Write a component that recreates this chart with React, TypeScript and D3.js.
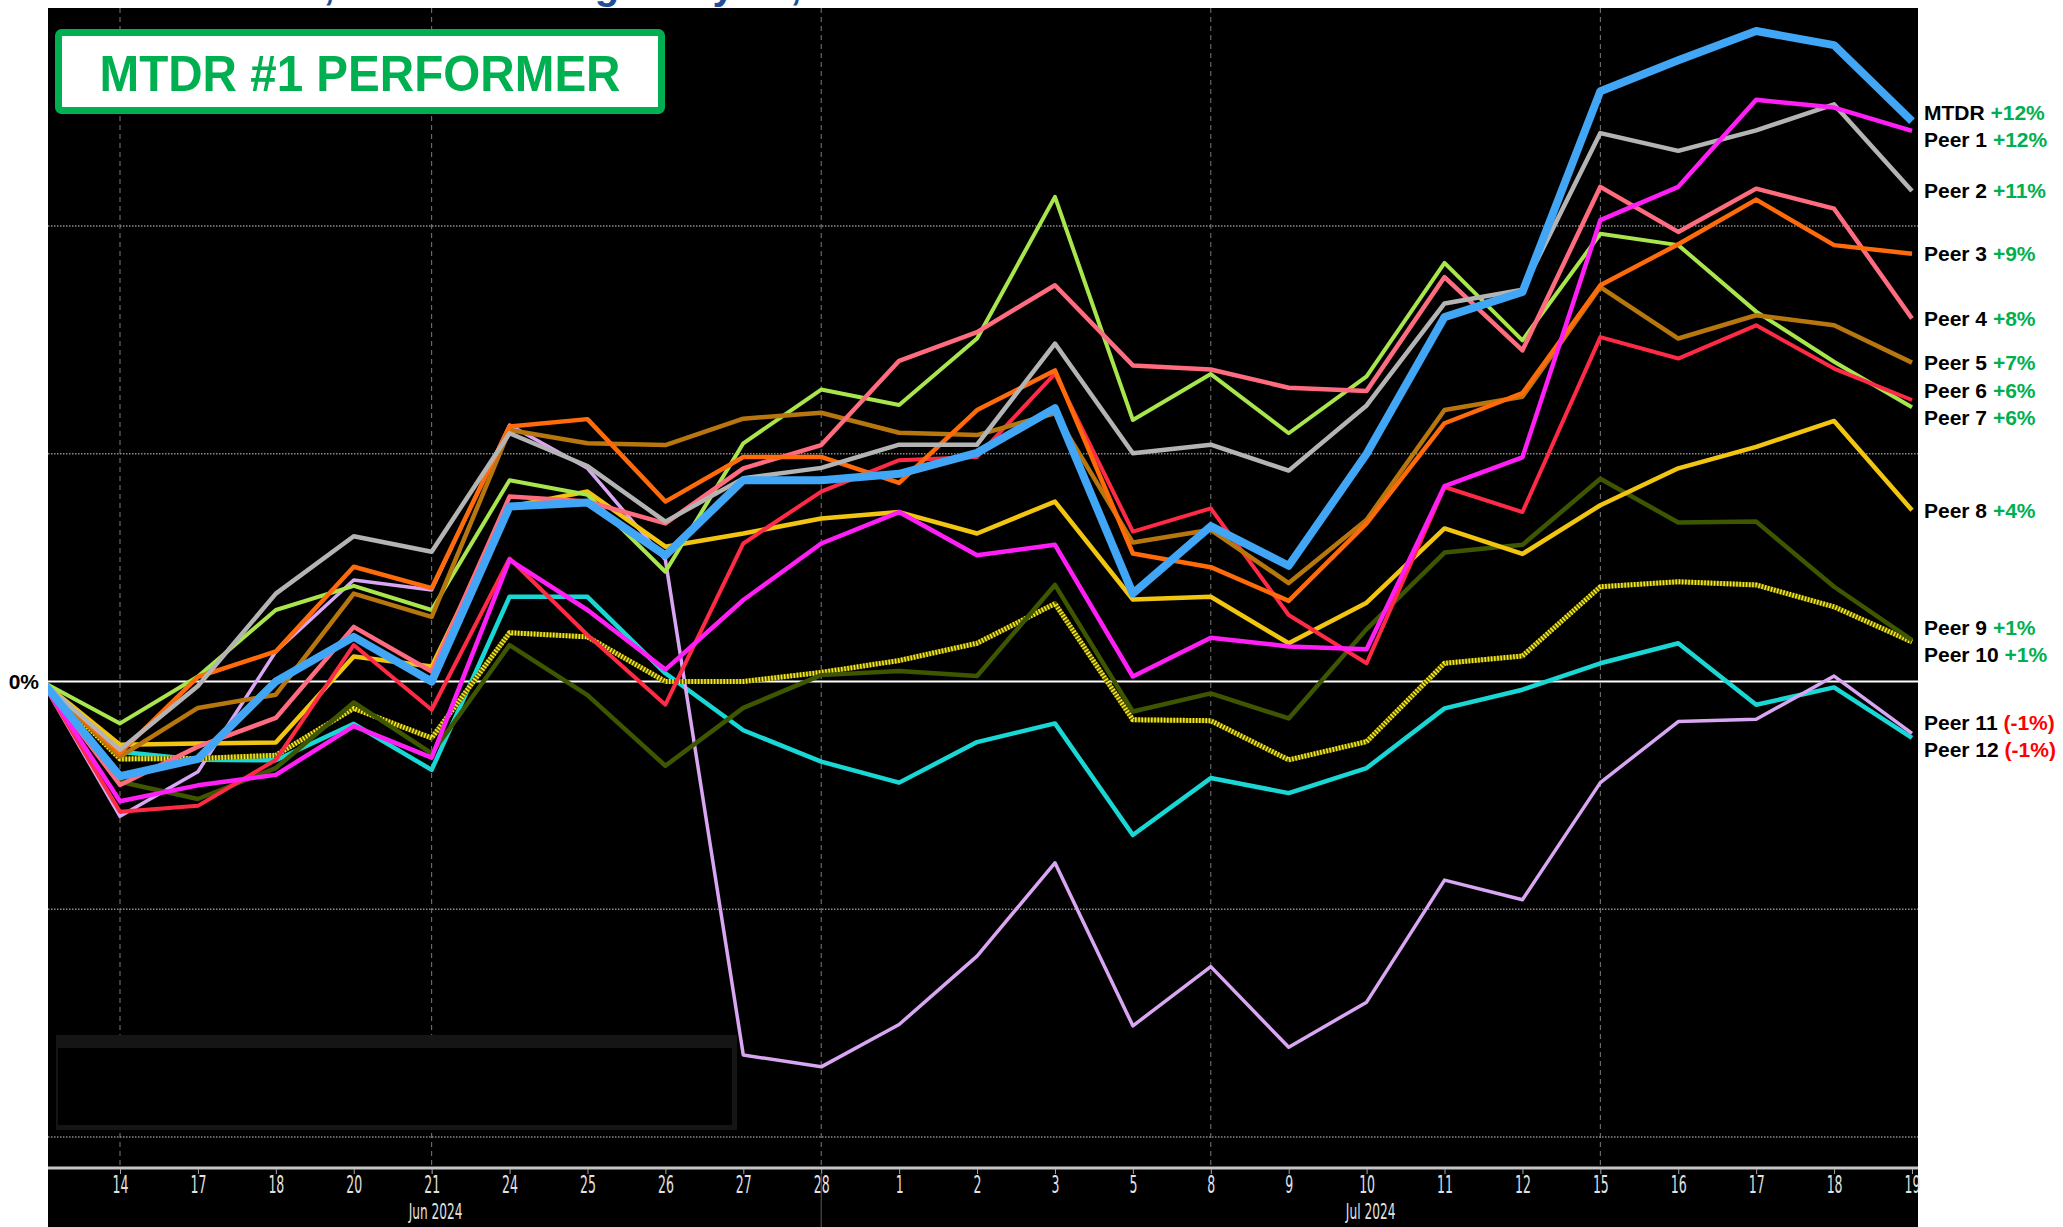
import { useEffect, useRef } from "react";
import * as d3 from "d3";

// index 0 is the Jun 13 base day (no tick label); the rest follow the axis
const dateTicks = ["14", "17", "18", "20", "21", "24", "25", "26", "27", "28", "1", "2", "3", "5", "8", "9", "10", "11", "12", "15", "16", "17", "18", "19"];
const monthLabels = ["Jun 2024", "Jul 2024"];
const monthAt = [5, 17];
const weekGrid = [1, 5, 10, 15, 20];
const pctGrid = [-10, -5, 5, 10];

const seriesNames = ["MTDR", "Peer 1", "Peer 2", "Peer 3", "Peer 4", "Peer 5", "Peer 6", "Peer 7", "Peer 8", "Peer 9", "Peer 10", "Peer 11", "Peer 12"];
const changeLabels = ["+12%", "+12%", "+11%", "+9%", "+8%", "+7%", "+6%", "+6%", "+4%", "+1%", "+1%", "(-1%)", "(-1%)"];

// % change since Jun 13
const mtdr = [0, -2.08, -1.7, 0, 0.98, 0, 3.84, 3.93, 2.77, 4.42, 4.42, 4.56, 5.02, 6.0, 1.93, 3.41, 2.54, 5.0, 8.0, 8.55, 12.96, 13.64, 14.28, 13.97, 12.3];
const peer1 = [0, -2.63, -2.28, -2.05, -0.98, -1.67, 2.67, 1.57, 0.26, 1.79, 3.03, 3.72, 2.77, 3.0, 0.11, 0.96, 0.77, 0.71, 4.29, 4.92, 10.13, 10.86, 12.77, 12.6, 12.09];
const peer2 = [0, -1.5, -0.1, 1.93, 3.19, 2.85, 5.45, 4.73, 3.51, 4.46, 4.69, 5.2, 5.2, 7.42, 5.01, 5.2, 4.63, 6.06, 8.3, 8.6, 12.04, 11.65, 12.1, 12.67, 10.77];
const peer3 = [0, -1.57, 0.1, 0.66, 2.52, 2.05, 5.6, 5.76, 3.95, 4.93, 4.93, 4.36, 5.96, 6.83, 2.81, 2.51, 1.77, 3.47, 5.67, 6.33, 8.7, 9.6, 10.58, 9.58, 9.39];
const peer4 = [0, -2.27, -1.43, -0.8, 1.2, 0.22, 4.06, 3.95, 3.47, 4.68, 5.19, 7.04, 7.67, 8.7, 6.94, 6.85, 6.45, 6.38, 8.88, 7.27, 10.86, 9.87, 10.82, 10.38, 7.97];
const peer5 = [0, -1.65, -0.58, -0.29, 1.93, 1.42, 5.52, 5.23, 5.19, 5.77, 5.9, 5.46, 5.41, 5.89, 3.05, 3.33, 2.16, 3.55, 5.96, 6.25, 8.66, 7.53, 8.04, 7.82, 7.0];
const peer6 = [0, -2.86, -2.73, -1.72, 0.8, -0.62, 2.7, 1.02, -0.51, 3.03, 4.17, 4.86, 4.93, 6.76, 3.29, 3.8, 1.46, 0.4, 4.27, 3.72, 7.56, 7.09, 7.82, 6.87, 6.18];
const peer7 = [0, -0.92, 0.11, 1.57, 2.1, 1.57, 4.42, 4.1, 2.41, 5.23, 6.41, 6.07, 7.53, 10.64, 5.74, 6.75, 5.45, 6.7, 9.19, 7.49, 9.83, 9.58, 8.12, 7.02, 6.02];
const peer8 = [0, -1.39, -1.36, -1.34, 0.55, 0.33, 3.84, 4.17, 2.96, 3.25, 3.58, 3.72, 3.25, 3.95, 1.8, 1.86, 0.84, 1.73, 3.36, 2.8, 3.87, 4.68, 5.15, 5.72, 3.76];
const peer9 = [0, -2.2, -2.58, -1.9, -0.46, -1.58, 0.8, -0.3, -1.85, -0.58, 0.14, 0.23, 0.12, 2.12, -0.66, -0.26, -0.81, 1.15, 2.83, 3.0, 4.45, 3.49, 3.51, 2.08, 0.91];
const peer10 = [0, -1.7, -1.69, -1.62, -0.59, -1.24, 1.07, 0.98, 0, 0, 0.2, 0.46, 0.84, 1.71, -0.84, -0.86, -1.72, -1.32, 0.4, 0.56, 2.08, 2.19, 2.12, 1.64, 0.87];
const peer11 = [0, -2.96, -1.98, 0.66, 2.23, 2.01, 5.63, 4.68, 2.67, -8.2, -8.46, -7.53, -6.03, -3.98, -7.56, -6.26, -8.03, -7.04, -4.36, -4.79, -2.22, -0.88, -0.83, 0.12, -1.14];
const peer12 = [0, -1.54, -1.72, -1.73, -0.93, -1.94, 1.86, 1.86, 0.18, -1.07, -1.76, -2.22, -1.33, -0.92, -3.37, -2.12, -2.45, -1.9, -0.59, -0.18, 0.4, 0.84, -0.51, -0.13, -1.24];

const allValues = [mtdr, peer1, peer2, peer3, peer4, peer5, peer6, peer7, peer8, peer9, peer10, peer11, peer12];

const lineStyles = [
  { color: "#41a6f6", width: 8 },
  { color: "#ff1ef5", width: 4.5 },
  { color: "#b4b4b4", width: 4.5 },
  { color: "#ff6a0a", width: 4.5 },
  { color: "#ff6b7f", width: 4.5 },
  { color: "#b8760e", width: 4.5 },
  { color: "#ff2a45", width: 4 },
  { color: "#a9e54c", width: 4 },
  { color: "#f2c511", width: 4.5 },
  { color: "#3e5600", width: 4.5 },
  { color: "#f4ea1a", width: 5, dash: "1.6,1.6" },
  { color: "#d8a6f2", width: 3.5 },
  { color: "#19d7d4", width: 4.5 },
];

export default function App() {
  const svgRef = useRef<SVGSVGElement | null>(null);

  useEffect(() => {
    const el = svgRef.current;
    if (!el) return;
    el.innerHTML = "";
    const width = 2063;
    const height = 1227;
    const plot = { left: 48, right: 1918, top: 8, bottom: 1167 };

    const svg = d3.select(el).attr("width", width).attr("height", height);
    svg.append("rect").attr("width", width).attr("height", height).attr("fill", "#fff");

    // report title, cut off by the top of the page as in the source slide
    svg
      .append("text")
      .attr("x", 79)
      .attr("y", -1)
      .attr("font-family", "Liberation Sans, Arial, sans-serif")
      .attr("font-weight", "bold")
      .attr("font-size", 40)
      .attr("fill", "#1f4e9a")
      .text("Performance, Period Through July 19, 2024");

    svg
      .append("rect")
      .attr("x", plot.left)
      .attr("y", plot.top)
      .attr("width", plot.right - plot.left)
      .attr("height", height - plot.top)
      .attr("fill", "#000");

    const x = d3.scaleLinear().domain([1, 24]).range([120, 1912]);
    const y = d3.scaleLinear().domain([-10, 10]).range([1137, 226]);

    svg
      .append("defs")
      .append("clipPath")
      .attr("id", "plotclip")
      .append("rect")
      .attr("x", plot.left)
      .attr("y", plot.top)
      .attr("width", plot.right - plot.left)
      .attr("height", plot.bottom - plot.top);

    // grid
    svg
      .append("g")
      .selectAll("line")
      .data(weekGrid)
      .join("line")
      .attr("x1", (d) => x(d))
      .attr("x2", (d) => x(d))
      .attr("y1", plot.top)
      .attr("y2", plot.bottom)
      .attr("stroke", "#7a7a7a")
      .attr("stroke-width", 1)
      .attr("stroke-dasharray", "5,4");

    svg
      .append("g")
      .selectAll("line")
      .data(pctGrid)
      .join("line")
      .attr("x1", plot.left)
      .attr("x2", plot.right)
      .attr("y1", (d) => y(d))
      .attr("y2", (d) => y(d))
      .attr("stroke", "#8a8a8a")
      .attr("stroke-width", 1.3)
      .attr("stroke-dasharray", "1.5,1.5");

    svg
      .append("line")
      .attr("x1", plot.left)
      .attr("x2", plot.right)
      .attr("y1", y(0))
      .attr("y2", y(0))
      .attr("stroke", "#fff")
      .attr("stroke-width", 2);

    // empty legend box bottom-left
    svg.append("rect").attr("x", 56).attr("y", 1035).attr("width", 681).attr("height", 95).attr("fill", "#151515");
    svg.append("rect").attr("x", 58).attr("y", 1048).attr("width", 674).attr("height", 77).attr("fill", "#000");

    const line = d3
      .line<number>()
      .x((_, i) => x(i))
      .y((d) => y(d))
      .curve(d3.curveLinear);

    const order = d3.range(allValues.length).slice(1).reverse().concat([0]);
    const lines = svg.append("g").attr("clip-path", "url(#plotclip)");
    order.forEach((i) => {
      const st = lineStyles[i];
      if (st.dash) {
        lines
          .append("path")
          .attr("d", line(allValues[i]))
          .attr("fill", "none")
          .attr("stroke", "#5a5400")
          .attr("stroke-width", st.width)
          .attr("stroke-linejoin", "round");
      }
      lines
        .append("path")
        .attr("d", line(allValues[i]))
        .attr("fill", "none")
        .attr("stroke", st.color)
        .attr("stroke-width", st.width)
        .attr("stroke-linejoin", "round")
        .attr("stroke-dasharray", st.dash ?? null);
    });

    // x axis
    svg
      .append("line")
      .attr("x1", plot.left)
      .attr("x2", plot.right)
      .attr("y1", plot.bottom + 1)
      .attr("y2", plot.bottom + 1)
      .attr("stroke", "#c4c4c4")
      .attr("stroke-width", 3);

    const axis = svg
      .append("g")
      .attr("transform", `translate(0,${plot.bottom + 2})`)
      .call(
        d3
          .axisBottom(x)
          .tickValues(d3.range(1, 25))
          .tickFormat((d) => dateTicks[(d as number) - 1])
          .tickSize(5)
      );
    axis.select(".domain").remove();
    axis.selectAll(".tick line").attr("stroke", "#aaa");
    axis
      .selectAll(".tick text")
      .attr("y", 24)
      .attr("dy", 0)
      .attr("fill", "#e2e2e2")
      .attr("font-family", "DejaVu Sans, sans-serif")
      .attr("font-size", 25)
      .attr("transform", "scale(0.5,1)");

    svg
      .append("line")
      .attr("x1", x(10))
      .attr("x2", x(10))
      .attr("y1", plot.bottom + 6)
      .attr("y2", height)
      .attr("stroke", "#5a5a5a")
      .attr("stroke-width", 1);

    svg
      .append("g")
      .selectAll("text")
      .data(monthLabels)
      .join("text")
      .attr("transform", (_, i) => `translate(${x(monthAt[i]) + 4},1219) scale(0.58,1)`)
      .attr("text-anchor", "middle")
      .attr("fill", "#e2e2e2")
      .attr("font-family", "DejaVu Sans, sans-serif")
      .attr("font-size", 21)
      .text((d) => d);

    // 0% label
    svg
      .append("text")
      .attr("x", 39)
      .attr("y", y(0))
      .attr("dy", "0.36em")
      .attr("text-anchor", "end")
      .attr("font-family", "Liberation Sans, Arial, sans-serif")
      .attr("font-weight", "bold")
      .attr("font-size", 21)
      .attr("fill", "#000")
      .text("0%");

    // end labels, pushed apart so they don't collide
    const gap = 27;
    const items = allValues.map((v, i) => ({ i, y: y(v[v.length - 1]) }));
    items.sort((a, b) => a.y - b.y);
    for (let k = 0; k < 300; k++) {
      for (let j = 1; j < items.length; j++) {
        const d = items[j].y - items[j - 1].y;
        if (d < gap) {
          const push = (gap - d) / 2;
          items[j].y += push;
          items[j - 1].y -= push;
        }
      }
    }
    const labels = svg
      .append("g")
      .attr("font-family", "Liberation Sans, Arial, sans-serif")
      .attr("font-weight", "bold")
      .attr("font-size", 21);
    items.forEach(({ i, y: ly }) => {
      const t = labels.append("text").attr("x", 1924).attr("y", ly).attr("dy", "0.36em");
      t.append("tspan").attr("fill", "#000").text(seriesNames[i] + " ");
      t.append("tspan")
        .attr("fill", changeLabels[i].startsWith("(") ? "#ff0000" : "#00b050")
        .text(changeLabels[i]);
    });

    // callout box
    svg
      .append("rect")
      .attr("x", 58.5)
      .attr("y", 32.5)
      .attr("width", 603)
      .attr("height", 78)
      .attr("rx", 3)
      .attr("fill", "#fff")
      .attr("stroke", "#00b050")
      .attr("stroke-width", 7);
    svg
      .append("text")
      .attr("x", 360)
      .attr("y", 91)
      .attr("text-anchor", "middle")
      .attr("font-family", "Liberation Sans, Arial, sans-serif")
      .attr("font-weight", "bold")
      .attr("font-size", 50)
      .attr("textLength", 521)
      .attr("lengthAdjust", "spacingAndGlyphs")
      .attr("fill", "#00b050")
      .text("MTDR #1 PERFORMER");
  }, []);

  return (
    <svg
      ref={svgRef}
      width={2063}
      height={1227}
      style={{ position: "absolute", left: 0, top: 0, display: "block" }}
    />
  );
}
